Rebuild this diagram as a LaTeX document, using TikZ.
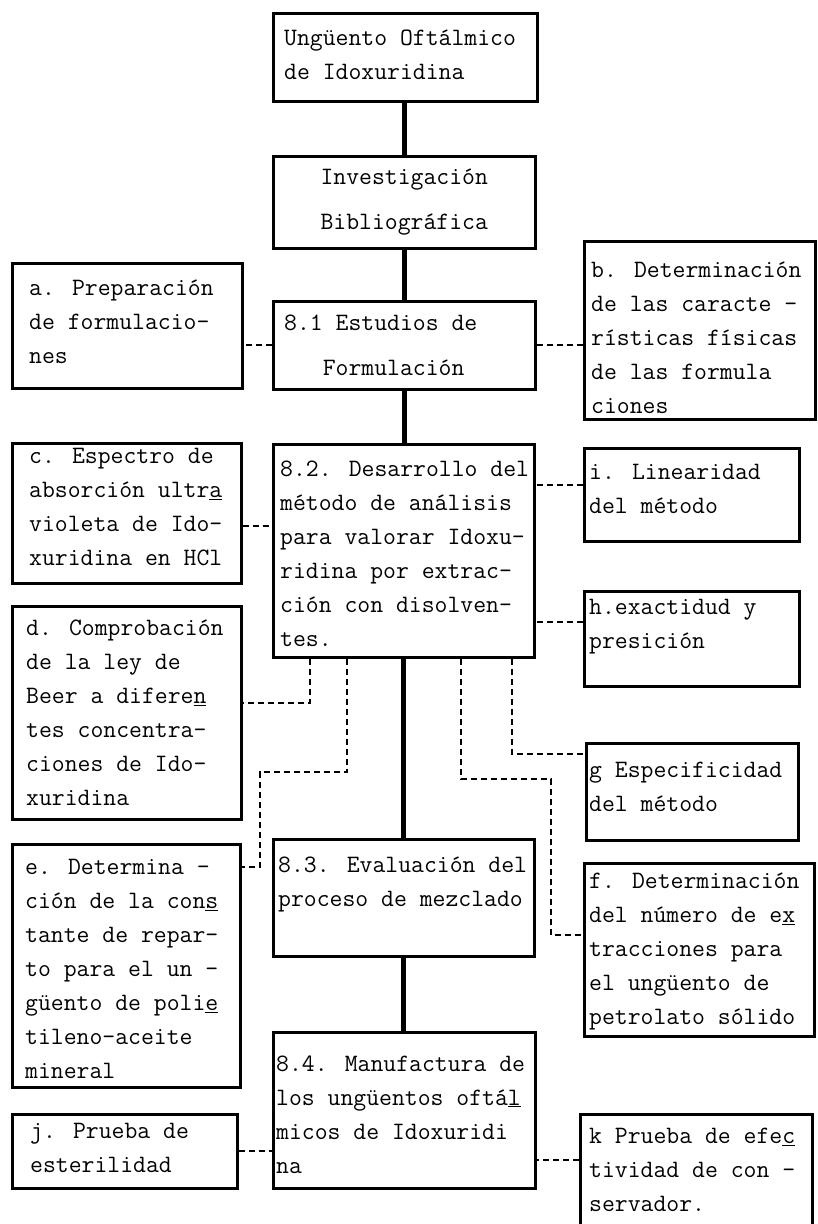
\documentclass[tikz,border=0pt]{standalone}
\usepackage{fontspec}
\usepackage{tikz}
\usetikzlibrary{positioning, calc}

\begin{document}
\begin{tikzpicture}[
  x=1pt, y=-1pt,
  every node/.style={font=\fontsize{25}{34}\selectfont\ttfamily},
  stage/.style={rectangle, draw=black, line width=2.6pt, anchor=north west,
                inner sep=0pt},
  txt/.style={align=left, inner sep=0pt},
  main/.style={draw=black, line width=5pt},
  link/.style={draw=black, line width=2pt, dash pattern=on 6pt off 4pt}
]
\useasboundingbox (0,0) rectangle (817,1224);

% ---- Central column ----
\node (ungu) [stage, minimum width=264pt, minimum height=88pt]  at (272,12)   {};
\node (inv)  [stage, minimum width=262pt, minimum height=92pt]  at (272,155)  {};
\node (est)  [stage, minimum width=262pt, minimum height=88pt]  at (272,300)  {};
\node (dev)  [stage, minimum width=261pt, minimum height=213pt] at (272,443)  {};
\node (eva)  [stage, minimum width=261pt, minimum height=117pt] at (272,838)  {};
\node (man)  [stage, minimum width=262pt, minimum height=156pt] at (272,1031) {};

\node (ungut) [txt, right=12pt of ungu.west, yshift=3pt]
  {Ungüento Oftálmico\\de Idoxuridina};
\node (invt)  [txt, align=center] at (inv)
  {Investigación\\[11pt]Bibliográfica};
\node (estt)  [txt, right=12pt of est.west]
  {8.1 Estudios de\\[11pt]\hphantom{xxx}Formulación};
\node (devt)  [txt, right=8pt of dev.west, yshift=-3pt]
  {8.2. Desarrollo del\\método de análisis\\para valorar Idoxu-\\ridina por extrac-\\ción con disolven-\\tes.};
\node (evat)  [txt, right=6pt of eva.west, yshift=13pt]
  {8.3. Evaluación del\\proceso de mezclado};
\node (mant)  [txt, right=4pt of man.west, yshift=-4pt]
  {8.4. Manufactura de\\los ungüentos oftá\underline{l}\\micos de Idoxuridi\\na};

% ---- Left column ----
\node (a) [stage, minimum width=230pt, minimum height=125pt] at (11,262)  {};
\node (c) [stage, minimum width=229pt, minimum height=140pt] at (11,442)  {};
\node (d) [stage, minimum width=229pt, minimum height=213pt] at (11,605)  {};
\node (e) [stage, minimum width=228pt, minimum height=243pt] at (11,843)  {};
\node (j) [stage, minimum width=225pt, minimum height=74pt]  at (11,1113) {};

\node (at) [txt, right=18pt of a.west, yshift=4pt]
  {a. Preparación\\de formulacio-\\nes};
\node (ct) [txt, right=18pt of c.west, yshift=6pt]
  {c. Espectro de\\absorción ultr\underline{a}\\violeta de Ido-\\xuridina en HCl};
\node (dt) [txt, right=15pt of d.west]
  {d. Comprobación\\de la ley de\\Beer a difere\underline{n}\\tes concentra-\\ciones de Ido-\\xuridina};
\node (et) [txt, right=14pt of e.west, yshift=-3pt]
  {e. Determina -\\ción de la con\underline{s}\\tante de repar-\\to para el un -\\güento de poli\underline{e}\\tileno-aceite\\mineral};
\node (jt) [txt, right=19pt of j.west, yshift=3pt]
  {j. Prueba de\\esterilidad};

% ---- Right column ----
\node (b) [stage, minimum width=231pt, minimum height=178pt] at (583,240)  {};
\node (i) [stage, minimum width=215pt, minimum height=93pt]  at (583,447)  {};
\node (h) [stage, minimum width=215pt, minimum height=95pt]  at (583,590)  {};
\node (g) [stage, minimum width=212pt, minimum height=97pt]  at (585,742)  {};
\node (f) [stage, minimum width=230pt, minimum height=173pt] at (583,862)  {};
\node (k) [stage, minimum width=232pt, minimum height=122pt] at (579,1113) {};

\node (bt) [txt, right=8pt of b.west, yshift=-7pt]
  {b. Determinación\\de las caracte -\\rísticas físicas\\de las formula\\ciones};
\node (it) [txt, right=6pt of i.west, yshift=6pt]
  {i. Linearidad\\del método};
\node (ht) [txt, right=6pt of h.west, yshift=12pt]
  {h.exactidud y\\presición};
\node (gt) [txt, right=4pt of g.west, yshift=5pt]
  {g Especificidad\\del método};
\node (ft) [txt, right=6pt of f.west, yshift=-2pt]
  {f. Determinación\\del número de e\underline{x}\\tracciones para\\el ungüento de\\petrolato sólido};
\node (kt) [txt, right=10pt of k.west, yshift=5pt]
  {k Prueba de efe\underline{c}\\tividad de con -\\servador.};

% ---- Main flow ----
\draw [main] (inv.north) -- (inv.north |- ungu.south);
\draw [main] (inv.south) -- (inv.south |- est.north);
\draw [main] (est.south) -- (est.south |- dev.north);
\draw [main] (dev.south) -- (eva.north);
\draw [main] (eva.south) -- (eva.south |- man.north);

% ---- Side links ----
\coordinate (ebend) at (260,772);
\coordinate (fbend) at (551,779);
\draw [link] (est.west) -- (est.west -| a.east);
\draw [link] (est.east) -- (est.east -| b.west);
\draw [link] ([yshift=-13pt]c.east) -- ([yshift=-13pt]c.east -| dev.west);
\draw [link] ([yshift=10pt]i.west) -- ([yshift=10pt]i.west -| dev.east);
\draw [link] ([yshift=17pt]h.west) -- ([yshift=17pt]h.west -| dev.east);
\draw [link] ([xshift=38pt]dev.south west) |- ([yshift=10pt]d.east);
\draw [link] ([xshift=75pt]dev.south west) |- (ebend) |- ([yshift=99pt]e.east);
\draw [link] ([xshift=189pt]dev.south west) |- (fbend) |- ([yshift=15pt]f.west);
\draw [link] ([xshift=240pt]dev.south west) |- ([yshift=38pt]g.west);
\draw [link] (j.east) -- (j.east -| man.west);
\draw [link] ([yshift=15pt]k.west) -- ([yshift=15pt]k.west -| man.east);
\end{tikzpicture}
\end{document}
